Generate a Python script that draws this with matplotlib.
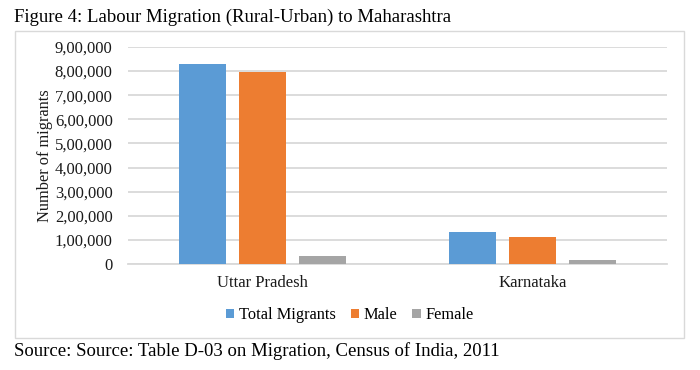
import matplotlib
matplotlib.use('Agg')
import matplotlib.pyplot as plt
import numpy as np
from matplotlib.patches import Rectangle
from matplotlib.ticker import FuncFormatter

# data
states = ['Uttar Pradesh', 'Karnataka']
total = [830000, 133000]
male = [797000, 113000]
female = [34000, 15000]
series = ['Total Migrants', 'Male', 'Female']
colors = ['#5B9BD5', '#ED7D31', '#A5A5A5']
yticks = list(range(0, 900001, 100000))


def indian_fmt(v, pos=None):
    """ Indian style digit grouping: 9,00,000 """
    s = str(int(round(v)))
    if len(s) <= 3:
        return s
    head, tail = s[:-3], s[-3:]
    parts = []
    while len(head) > 2:
        parts.insert(0, head[-2:])
        head = head[:-2]
    if head:
        parts.insert(0, head)
    return ','.join(parts) + ',' + tail


plt.rcParams['font.family'] = ['Liberation Serif', 'DejaVu Serif']

W, H = 700, 370
fig = plt.figure(figsize=(7, 3.7), dpi=100)

# chart frame
fig.patches.append(Rectangle((15 / W, 1 - 338 / H), 669 / W, 307 / H,
                             transform=fig.transFigure, fill=False,
                             edgecolor='#d9d9d9', linewidth=1.0))

ax = fig.add_axes([128 / W, 1 - 264 / H, 539 / W, 217 / H])

x = np.arange(len(states))
bw = 0.174
step = 0.223
for i, (vals, name) in enumerate(zip([total, male, female], series)):
    ax.bar(x + (i - 1) * step, vals, width=bw, color=colors[i], label=name, zorder=3)

ax.set_xlim(-0.5, 1.5)
ax.set_ylim(0, 900000)
ax.set_yticks(yticks)
ax.yaxis.set_major_formatter(FuncFormatter(indian_fmt))
ax.set_xticks(x)
ax.set_xticklabels(states)
ax.tick_params(axis='both', length=0, labelsize=12, colors='#1a1a1a')
ax.tick_params(axis='y', pad=11)
ax.tick_params(axis='x', pad=8)
ax.grid(axis='y', color='#d9d9d9', linewidth=1.3, zorder=0)
for side in ['top', 'right', 'left']:
    ax.spines[side].set_visible(False)
ax.spines['bottom'].set_color('#d9d9d9')
ax.spines['bottom'].set_linewidth(1.3)

ax.set_ylabel('Number of migrants', fontsize=11.8, color='#1a1a1a')
ax.yaxis.set_label_coords((45 - 128) / 539, 0.5)
ax.yaxis.label.set_va('center')

fig.legend(loc='center', bbox_to_anchor=(0.5, 1 - 315 / H), ncol=3, frameon=False,
           fontsize=11.8, handlelength=0.5, handleheight=0.5, handletextpad=0.3,
           columnspacing=0.9)

fig.text(14 / W, 1 - 17 / H, 'Figure 4: Labour Migration (Rural-Urban) to Maharashtra',
         fontsize=13.5, ha='left', va='center')
fig.text(14 / W, 1 - 351 / H, 'Source: Source: Table D-03 on Migration, Census of India, 2011',
         fontsize=13.5, ha='left', va='center')

fig.savefig('out.png', dpi=100, facecolor='white')
